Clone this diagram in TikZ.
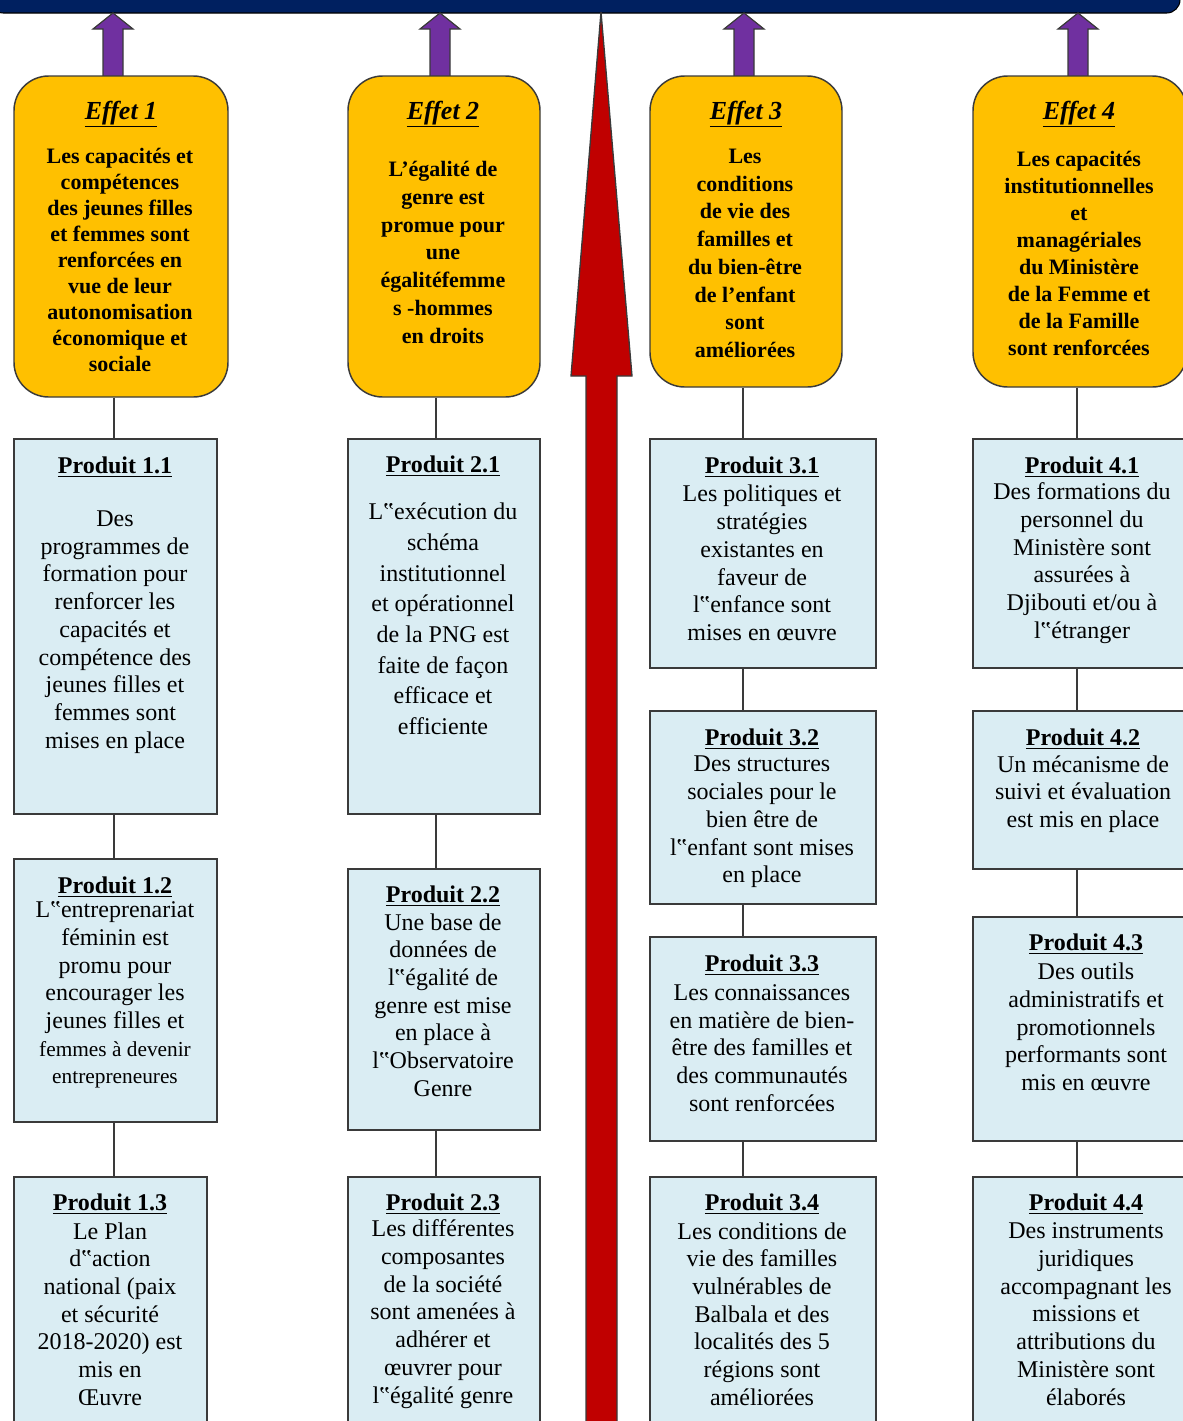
\documentclass[tikz,border=0pt]{standalone}
\usepackage{fontspec}
\setmainfont{Liberation Serif}
\usetikzlibrary{fit}
\definecolor{navybar}{HTML}{002060}
\definecolor{purplearr}{HTML}{7030A0}
\definecolor{redarr}{HTML}{C00000}
\definecolor{gold}{HTML}{FFC000}
\definecolor{lightblue}{HTML}{DAEDF3}
\definecolor{edge}{HTML}{3A3A3A}
\begin{document}
\begin{tikzpicture}[x=0.75pt,y=-0.75pt,
  ebox/.style={draw=edge, fill=gold, line width=1.1pt, rounded corners=26pt, inner sep=0pt},
  pbox/.style={draw=edge, fill=lightblue, line width=1.5pt, inner sep=0pt},
  etitle/.style={font=\bfseries\itshape\fontsize{19.5}{22}\selectfont, inner sep=0pt, yshift=-2.25pt},
  etext/.style={font=\bfseries\fontsize{16.5}{20}\selectfont, align=center, inner sep=0pt, yshift=-1pt},
  ptitle/.style={font=\bfseries\fontsize{18}{20}\selectfont, inner sep=0pt, yshift=-1.5pt},
  ptext/.style={font=\fontsize{18}{20.8}\selectfont, align=center, inner sep=0pt, yshift=-1.5pt},
  link/.style={draw=edge, line width=1.3pt},
  parrow/.style={draw=edge, fill=purplearr, line width=0.9pt, line join=miter},
  rarrow/.style={draw=edge, fill=redarr, line width=1pt, line join=miter}]
\useasboundingbox (0,0) rectangle (1182,1421);

% top bar
\draw[fill=navybar, draw=black, line width=0.8pt, rounded corners=10pt] (-10,-30) rectangle (1180,13);

% red arrow
\draw[rarrow] (586,1440) -- (586,376) -- (571,376) -- (601,12) -- (632,376) -- (617,376) -- (617,1440) -- cycle;

% connector x positions
\coordinate (x1) at (114,0);
\coordinate (x2) at (436,0);
\coordinate (x3) at (743,0);
\coordinate (x4) at (1077,0);

% purple arrows
\coordinate (a1) at (113,77);
\coordinate (a2) at (440,77);
\coordinate (a3) at (744,77);
\coordinate (a4) at (1078,77);
\foreach \a in {a1,a2,a3,a4}{
  \draw[parrow] (\a) ++(-10,0) -- ++(0,-48) -- ++(-10,0) -- ++(20,-16) -- ++(20,16) -- ++(-10,0) -- ++(0,48) -- cycle;
}

% effet boxes
\node[ebox, fit={(14,76) (228,397)}] (e1) {};
\node[ebox, fit={(348,76) (540,397)}] (e2) {};
\node[ebox, fit={(650,76) (842,387)}] (e3) {};
\node[ebox, fit={(973,76) (1187,387)}] (e4) {};

% produit boxes
\node[pbox, fit={(14,439) (217,814)}] (p11) {};
\node[pbox, fit={(14,859) (217,1122)}] (p12) {};
\node[pbox, fit={(14,1177) (207,1450)}] (p13) {};
\node[pbox, fit={(348,439) (540,814)}] (p21) {};
\node[pbox, fit={(348,869) (540,1130)}] (p22) {};
\node[pbox, fit={(348,1177) (540,1450)}] (p23) {};
\node[pbox, fit={(650,439) (876,668)}] (p31) {};
\node[pbox, fit={(650,711) (876,904)}] (p32) {};
\node[pbox, fit={(650,937) (876,1141)}] (p33) {};
\node[pbox, fit={(650,1177) (876,1450)}] (p34) {};
\node[pbox, fit={(973,439) (1196,668)}] (p41) {};
\node[pbox, fit={(973,711) (1196,869)}] (p42) {};
\node[pbox, fit={(973,917) (1196,1141)}] (p43) {};
\node[pbox, fit={(973,1177) (1196,1450)}] (p44) {};

% connectors
\draw[link] (e1.south -| x1) -- (p11.north -| x1);
\draw[link] (p11.south -| x1) -- (p12.north -| x1);
\draw[link] (p12.south -| x1) -- (p13.north -| x1);
\draw[link] (e2.south -| x2) -- (p21.north -| x2);
\draw[link] (p21.south -| x2) -- (p22.north -| x2);
\draw[link] (p22.south -| x2) -- (p23.north -| x2);
\draw[link] (e3.south -| x3) -- (p31.north -| x3);
\draw[link] (p31.south -| x3) -- (p32.north -| x3);
\draw[link] (p32.south -| x3) -- (p33.north -| x3);
\draw[link] (p33.south -| x3) -- (p34.north -| x3);
\draw[link] (e4.south -| x4) -- (p41.north -| x4);
\draw[link] (p41.south -| x4) -- (p42.north -| x4);
\draw[link] (p42.south -| x4) -- (p43.north -| x4);
\draw[link] (p43.south -| x4) -- (p44.north -| x4);

% effet texts
\node[etitle] (te1) at (121,111) {\underline{Effet 1}};
\node[etext, font=\bfseries\fontsize{16.5}{19.5}\selectfont] (be1) at (120,259) {Les capacités et\\compétences\\des jeunes filles\\et femmes sont\\renforcées en\\vue de leur\\autonomisation\\économique et\\sociale};
\node[etitle] (te2) at (443,111) {\underline{Effet 2}};
\node[etext, font=\bfseries\fontsize{16.5}{20.8}\selectfont] (be2) at (443,251) {L’égalité de\\genre est\\promue pour\\une\\égalitéfemme\\s -hommes\\en droits};
\node[etitle] (te3) at (746,111) {\underline{Effet 3}};
\node[etext, font=\bfseries\fontsize{16.5}{20.8}\selectfont] (be3) at (745,252) {Les\\conditions\\de vie des\\familles et\\du bien-être\\de l’enfant\\sont\\améliorées};
\node[etitle] (te4) at (1079,111) {\underline{Effet 4}};
\node[etext, font=\bfseries\fontsize{16.5}{20.3}\selectfont] (be4) at (1079,252) {Les capacités\\institutionnelles\\et\\managériales\\du Ministère\\de la Femme et\\de la Famille\\sont renforcées};

% produit texts col 1
\node[ptitle] (tp11) at (115,465) {\underline{Produit 1.1}};
\node[ptext] (bp11) at (115,630) {Des\\programmes de\\formation pour\\renforcer les\\capacités et\\compétence des\\jeunes filles et\\femmes sont\\mises en place};
\node[ptitle] (tp12) at (115,885) {\underline{Produit 1.2}};
\node[ptext] (bp12) at (115,993) {L‟entreprenariat\\féminin est\\promu pour\\encourager les\\jeunes filles et\\{\fontsize{16}{19.5}\selectfont femmes à devenir}\\{\fontsize{16}{19.5}\selectfont entrepreneures}};
\node[ptitle] (tp13) at (110,1202) {\underline{Produit 1.3}};
\node[ptext] (bp13) at (110,1312) {Le Plan\\d‟action\\national (paix\\et sécurité\\2018-2020) est\\mis en\\Œuvre};

% col 2
\node[ptitle] (tp21) at (443,464) {\underline{Produit 2.1}};
\node[ptext, font=\fontsize{18}{23}\selectfont] (bp21) at (443,617) {L‟exécution du\\schéma\\institutionnel\\et opérationnel\\de la PNG est\\faite de façon\\efficace et\\efficiente};
\node[ptitle] (tp22) at (443,894) {\underline{Produit 2.2}};
\node[ptext] (bp22) at (443,1003) {Une base de\\données de\\l‟égalité de\\genre est mise\\en place à\\l‟Observatoire\\Genre};
\node[ptitle] (tp23) at (443,1202) {\underline{Produit 2.3}};
\node[ptext] (bp23) at (443,1312) {Les différentes\\composantes\\de la société\\sont amenées à\\adhérer et\\œuvrer pour\\l‟égalité genre};

% col 3
\node[ptitle] (tp31) at (762,465) {\underline{Produit 3.1}};
\node[ptext] (bp31) at (762,561) {Les politiques et\\stratégies\\existantes en\\faveur de\\l‟enfance sont\\mises en œuvre};
\node[ptitle] (tp32) at (762,737) {\underline{Produit 3.2}};
\node[ptext] (bp32) at (762,820) {Des structures\\sociales pour le\\bien être de\\l‟enfant sont mises\\en place};
\node[ptitle] (tp33) at (762,963) {\underline{Produit 3.3}};
\node[ptext] (bp33) at (762,1046) {Les connaissances\\en matière de bien-\\être des familles et\\des communautés\\sont renforcées};
\node[ptitle] (tp34) at (762,1202) {\underline{Produit 3.4}};
\node[ptext] (bp34) at (762,1312) {Les conditions de\\vie des familles\\vulnérables de\\Balbala et des\\localités des 5\\régions sont\\améliorées};

% col 4
\node[ptitle] (tp41) at (1082,465) {\underline{Produit 4.1}};
\node[ptext] (bp41) at (1082,561) {Des formations du\\personnel du\\Ministère sont\\assurées à\\Djibouti et/ou à\\l‟étranger};
\node[ptitle] (tp42) at (1083,737) {\underline{Produit 4.2}};
\node[ptext] (bp42) at (1083,792) {Un mécanisme de\\suivi et évaluation\\est mis en place};
\node[ptitle] (tp43) at (1086,942) {\underline{Produit 4.3}};
\node[ptext] (bp43) at (1086,1025) {Des outils\\administratifs et\\promotionnels\\performants sont\\mis en œuvre};
\node[ptitle] (tp44) at (1086,1202) {\underline{Produit 4.4}};
\node[ptext] (bp44) at (1086,1312) {Des instruments\\juridiques\\accompagnant les\\missions et\\attributions du\\Ministère sont\\élaborés};
\end{tikzpicture}
\end{document}
